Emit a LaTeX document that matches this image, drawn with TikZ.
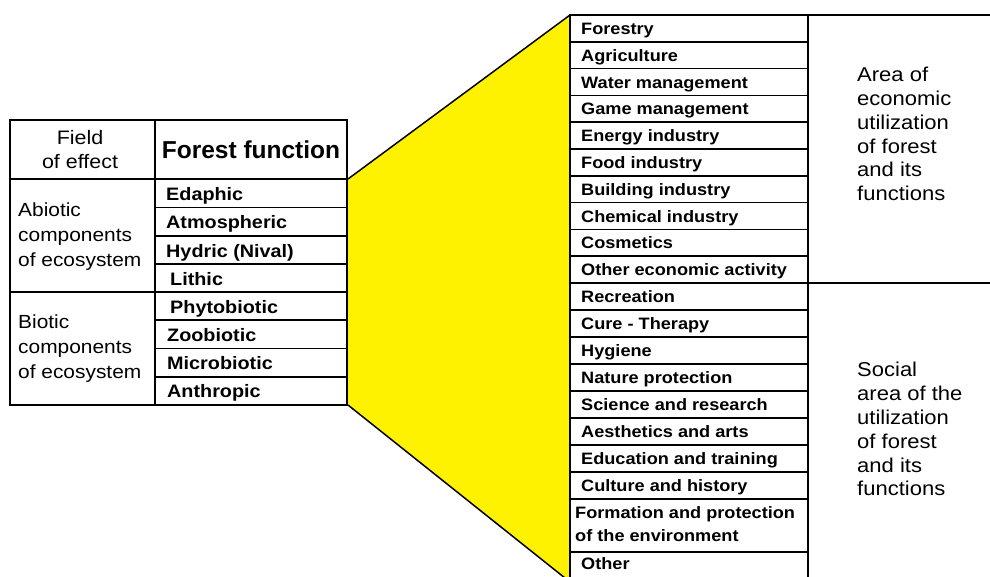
\documentclass[tikz,border=0pt]{standalone}
\usepackage{fontspec}
\setmainfont{Liberation Sans}[FakeStretch=1.1]
\newfontfamily\hdrfont{Liberation Sans}
\begin{document}
\begin{tikzpicture}[x=1pt,y=-1pt,
  thickrule/.style={line width=2.6pt},
  thinrule/.style={line width=1.6pt},
  edgeline/.style={line width=1.5pt},
  rowlab/.style={anchor=base west, inner sep=0pt, font=\fontsize{16.5}{20}\selectfont\bfseries},
  leftlab/.style={anchor=base west, inner sep=0pt, font=\fontsize{18}{20}\selectfont\bfseries},
  grouplab/.style={anchor=west, inner sep=0pt, align=left, font=\fontsize{19}{25}\selectfont},
  arealab/.style={anchor=west, inner sep=0pt, align=left, font=\fontsize{20}{23.9}\selectfont},
  hdrlab/.style={inner sep=0pt, align=center, font=\fontsize{19.5}{24}\selectfont},
]
\useasboundingbox (0,0) rectangle (990,576);
\begin{scope}
\clip (0,0) rectangle (990,576);
% corner coordinates
\coordinate (LT) at (348,179);
\coordinate (LB) at (348,405);
\coordinate (RT) at (570,15);
\coordinate (RB) at (570,582);
% yellow wedge
\fill[yellow] (LT) -- (RT) -- (RB) -- (LB) -- cycle;
\draw[edgeline] (LT) -- (RT);
\draw[edgeline] (LB) -- (RB);

% ---- left table ----
\foreach \y in {207.5,235.75,264,320.25,348.5,376.75}
  \draw[thinrule] (155,\y) -- (347,\y);
\draw[thickrule] (10,179) -- (347,179);
\draw[thickrule] (10,292) -- (347,292);
\draw[thickrule] (155,120) -- (155,405);
\draw[thickrule] (10,120) rectangle (347,405);

\node[hdrlab] (field) at (80,150) {Field\\of effect};
\node[inner sep=0pt, anchor=base, font=\hdrfont\fontsize{24.5}{28}\selectfont\bfseries] (ffun) at (251,158.3) {Forest function};

\node[grouplab] (abiotic) at (18,236.5) {Abiotic\\components\\of ecosystem};
\node[grouplab] (biotic) at (18,348.7) {Biotic\\components\\of ecosystem};

\node[leftlab] (f1) at (166,200.5) {Edaphic};
\node[leftlab] (f2) at (166,228.8) {Atmospheric};
\node[leftlab] (f3) at (166,257) {Hydric (Nival)};
\node[leftlab] (f4) at (170,285.2) {Lithic};
\node[leftlab] (f5) at (170,313.2) {Phytobiotic};
\node[leftlab] (f6) at (167,341.4) {Zoobiotic};
\node[leftlab] (f7) at (167,369.6) {Microbiotic};
\node[leftlab] (f8) at (167,397.9) {Anthropic};

% ---- right table ----
\foreach \k in {1,...,9}
  \draw[thinrule] (570,15+26.8*\k) -- (808,15+26.8*\k);
\foreach \y in {310,337,364,391,418,445,472,499,552}
  \draw[thinrule] (570,\y) -- (808,\y);
\draw[line width=2.2pt] (570,283) -- (990,283);
\draw[thickrule] (569,15) -- (990,15);
\draw[thickrule] (570,15) -- (570,582);
\draw[thickrule] (808,15) -- (808,582);

\foreach \t [count=\i from 0] in {Forestry,Agriculture,Water management,Game management,Energy industry,Food industry,Building industry,Chemical industry,Cosmetics,Other economic activity}
  \node[rowlab] (e\i) at (581,15+26.8*\i+13.4+6) {\t};

\foreach \t [count=\i from 0] in {Recreation,Cure - Therapy,Hygiene,Nature protection,Science and research,Aesthetics and arts,Education and training,Culture and history}
  \node[rowlab] (s\i) at (581,283+27*\i+13.5+6) {\t};
\node[rowlab] (s8a) at (575,518) {Formation and protection};
\node[rowlab] (s8b) at (575,541.5) {of the environment};
\node[rowlab] (s9) at (581,569.5) {Other};

\node[arealab] (econ) at (857,134) {Area of\\economic\\utilization\\of forest\\and its\\functions};
\node[arealab] (social) at (857,429) {Social\\area of the\\utilization\\of forest\\and its\\functions};
\end{scope}
\end{tikzpicture}
\end{document}
